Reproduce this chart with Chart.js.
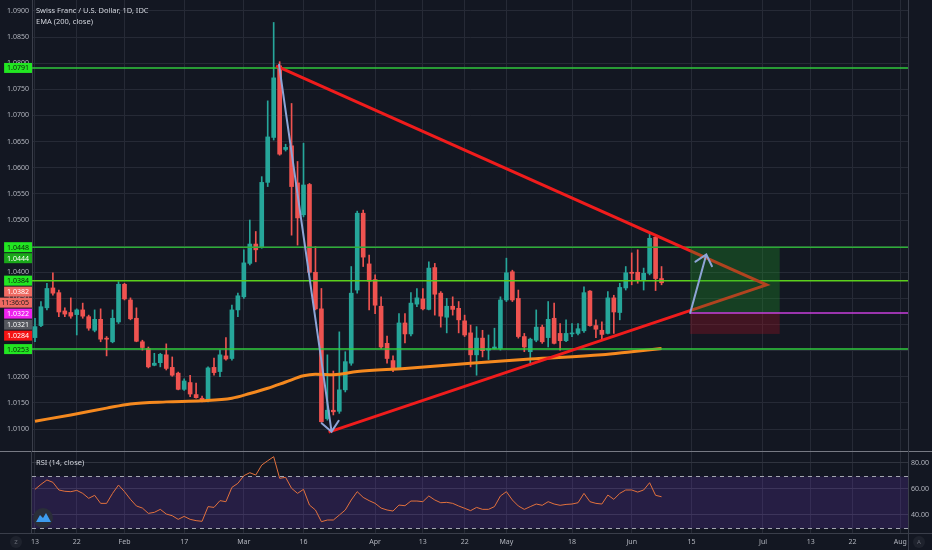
<!DOCTYPE html>
<html>
<head>
<meta charset="utf-8">
<title>CHFUSD 1D</title>
<script src="https://cdn.jsdelivr.net/npm/chart.js@4.4.1/dist/chart.umd.min.js"></script>
<style>
    html, body { margin: 0; padding: 0; background: #131722; }
    #wrap { position: relative; width: 932px; height: 550px; overflow: hidden; }
    #mainBox { position: absolute; left: 0; top: 0; width: 932px; height: 451px; }
    #rsiBox { position: absolute; left: 0; top: 451px; width: 932px; height: 99px; }
</style>
</head>
<body>
<div id="wrap">
    <div id="mainBox"><canvas id="mainChart"></canvas></div>
    <div id="rsiBox"><canvas id="rsiChart"></canvas></div>
</div>
<script>
// daily candles, 13 Jan - 8 Jun (trading days)
const opens = [1.0275,1.0298,1.0332,1.0370,1.0361,1.0326,1.0323,1.0319,1.0328,1.0315,
    1.0289,1.0310,1.0273,1.0267,1.0305,1.0377,1.0347,1.0312,1.0267,1.0254,
    1.0222,1.0227,1.0242,1.0218,1.0207,1.0176,1.0189,1.0166,1.0159,1.0154,
    1.0218,1.0210,1.0240,1.0235,1.0328,1.0353,1.0417,1.0454,1.0447,1.0572,
    1.0658,1.0795,1.0635,1.0642,1.0571,1.0510,1.0568,1.0400,1.0330,1.0120,
    1.0136,1.0134,1.0175,1.0226,1.0366,1.0513,1.0416,1.0386,1.0335,1.0264,
    1.0231,1.0216,1.0303,1.0282,1.0339,1.0349,1.0329,1.0409,1.0360,1.0314,
    1.0335,1.0331,1.0307,1.0284,1.0242,1.0274,1.0251,1.0254,1.0254,1.0347,
    1.0401,1.0350,1.0277,1.0248,1.0270,1.0295,1.0275,1.0312,1.0283,1.0269,
    1.0282,1.0283,1.0288,1.0364,1.0298,1.0289,1.0283,1.0351,1.0323,1.0370,
    1.0400,1.0400,1.0385,1.0398,1.0467,1.0388];
const highs = [1.0312,1.0344,1.0379,1.0399,1.0366,1.0332,1.0351,1.0330,1.0341,1.0318,
    1.0328,1.0330,1.0277,1.0328,1.0382,1.0379,1.0351,1.0332,1.0270,1.0257,
    1.0245,1.0245,1.0263,1.0238,1.0209,1.0196,1.0203,1.0188,1.0163,1.0219,
    1.0236,1.0251,1.0275,1.0337,1.0360,1.0443,1.0500,1.0478,1.0583,1.0728,
    1.0878,1.0803,1.0645,1.0723,1.0612,1.0647,1.0570,1.0449,1.0369,1.0242,
    1.0211,1.0286,1.0248,1.0411,1.0517,1.0519,1.0433,1.0395,1.0353,1.0278,
    1.0240,1.0321,1.0321,1.0361,1.0369,1.0369,1.0420,1.0417,1.0363,1.0350,
    1.0353,1.0344,1.0318,1.0299,1.0296,1.0289,1.0280,1.0293,1.0353,1.0427,
    1.0404,1.0366,1.0283,1.0274,1.0328,1.0299,1.0344,1.0341,1.0302,1.0309,
    1.0302,1.0302,1.0372,1.0365,1.0309,1.0305,1.0363,1.0356,1.0379,1.0411,
    1.0437,1.0443,1.0408,1.0475,1.0471,1.0411];
const lows = [1.0267,1.0296,1.0328,1.0356,1.0315,1.0315,1.0312,1.0280,1.0312,1.0289,
    1.0286,1.0267,1.0240,1.0265,1.0302,1.0347,1.0309,1.0267,1.0251,1.0217,
    1.0221,1.0219,1.0213,1.0201,1.0175,1.0174,1.0162,1.0159,1.0152,1.0152,
    1.0203,1.0200,1.0232,1.0232,1.0315,1.0350,1.0414,1.0420,1.0446,1.0564,
    1.0653,1.0624,1.0632,1.0471,1.0452,1.0506,1.0398,1.0328,1.0113,1.0117,
    1.0127,1.0130,1.0171,1.0222,1.0360,1.0411,1.0328,1.0321,1.0254,1.0226,
    1.0210,1.0214,1.0265,1.0278,1.0334,1.0328,1.0328,1.0318,1.0295,1.0284,
    1.0318,1.0284,1.0277,1.0219,1.0203,1.0238,1.0233,1.0253,1.0251,1.0344,
    1.0344,1.0274,1.0248,1.0222,1.0267,1.0264,1.0257,1.0263,1.0251,1.0267,
    1.0277,1.0280,1.0285,1.0297,1.0275,1.0272,1.0282,1.0283,1.0309,1.0366,
    1.0376,1.0379,1.0366,1.0395,1.0365,1.0376];
const closes = [1.0296,1.0334,1.0369,1.0360,1.0324,1.0320,1.0316,1.0328,1.0316,1.0293,
    1.0310,1.0272,1.0272,1.0312,1.0377,1.0349,1.0311,1.0268,1.0256,1.0219,
    1.0226,1.0243,1.0216,1.0203,1.0176,1.0192,1.0167,1.0160,1.0155,1.0217,
    1.0208,1.0242,1.0234,1.0328,1.0355,1.0418,1.0454,1.0443,1.0572,1.0659,
    1.0772,1.0626,1.0639,1.0564,1.0504,1.0567,1.0400,1.0330,1.0114,1.0136,
    1.0133,1.0175,1.0229,1.0360,1.0513,1.0429,1.0383,1.0337,1.0257,1.0235,
    1.0216,1.0303,1.0282,1.0341,1.0351,1.0330,1.0408,1.0358,1.0316,1.0335,
    1.0329,1.0309,1.0280,1.0242,1.0274,1.0250,1.0254,1.0257,1.0347,1.0399,
    1.0347,1.0277,1.0257,1.0272,1.0295,1.0267,1.0310,1.0264,1.0269,1.0283,
    1.0283,1.0292,1.0361,1.0298,1.0291,1.0281,1.0351,1.0324,1.0371,1.0399,
    1.0398,1.0385,1.0398,1.0465,1.0388,1.0380];

// EMA(200) at a few bars
const emaIdx = [0, 6, 12, 16, 22, 28, 33, 36, 39, 42, 45, 47, 50, 54, 62, 73, 83, 95, 100, 105];
const emaVals = [1.0115, 1.0127, 1.0140, 1.0148, 1.0152, 1.0154, 1.0159, 1.0168, 1.0178, 1.0190,
    1.0202, 1.0205, 1.0204, 1.0210, 1.0216, 1.0226, 1.0234, 1.0242, 1.0248, 1.0254];

// RSI(14)
const rsiVals = [59.5,63.3,66.7,64.9,59.0,58.0,57.7,58.7,56.4,52.6,
    54.9,48.7,48.7,56.4,62.8,57.7,51.8,46.7,45.1,41.0,
    41.8,44.1,40.5,39.2,36.4,38.7,36.4,35.4,34.9,46.2,
    45.6,50.8,50.0,61.0,64.1,70.0,72.3,70.5,78.2,81.5,
    84.6,68.0,68.7,60.3,56.4,59.5,47.4,43.6,34.6,35.9,
    35.9,39.7,43.6,51.3,57.7,53.3,50.8,48.7,45.1,43.6,
    42.8,47.4,46.9,50.5,50.5,50.0,54.4,51.3,49.2,49.5,
    48.7,46.7,44.9,43.1,45.6,44.1,44.1,46.2,54.4,57.7,
    51.3,46.7,44.1,46.2,48.2,47.2,50.0,48.2,47.2,47.9,
    48.2,49.2,56.4,50.0,48.7,48.2,55.1,51.8,56.4,59.0,
    59.0,57.4,59.0,64.6,54.9,53.8];

// axis ticks
const tickIdx = [0, 7, 15, 25, 35, 45, 57, 65, 72, 79, 90, 100, 110, 122, 130, 137, 145];
const tickText = ['13', '22', 'Feb', '17', 'Mar', '16', 'Apr', '13', '22', 'May', '18', 'Jun', '15', 'Jul', '13', '22', 'Aug'];
const priceTicks = [1.0100, 1.0150, 1.0200, 1.0250, 1.0300, 1.0350, 1.0400, 1.0450, 1.0500,
    1.0550, 1.0600, 1.0650, 1.0700, 1.0750, 1.0800, 1.0850, 1.0900];
const rsiTicks = [40, 60, 80];

// drawings (bar index, price)
const levelPrices = [1.0791, 1.0448, 1.0384, 1.0253];
const triTop = [40.4, 1.0795];
const triTip = [122.6, 1.0376];
const triBottom = [49.2, 1.0094];
const arrowDown = [40.9, 1.0797, 49.7, 1.0095];
const arrowUp = [109.8, 1.0322, 112.5, 1.0434];
const posStart = 109.8, posEnd = 124.8;
const posEntry = 1.0322, posTarget = 1.0448, posStop = 1.0282;

// price tags on the scale
const tagPrices = [1.0791, 1.0448, 1.0444, 1.0384, 1.0382, 1.0382, 1.0322, 1.0321, 1.0284, 1.0253];
const tagTexts = ['1.0791', '1.0448', '1.0444', '1.0384', '1.0382', '11:36:05', '1.0322', '1.0321', '1.0284', '1.0253'];

const UP = '#26a69a', DOWN = '#ef5350';
const BG = '#131722', GRID = '#262a36', TXT = '#b2b5be';
const FONT = "'Noto Sans', 'DejaVu Sans', sans-serif";
const levelColors = ['#30c83c', '#2eae38', '#5cd01c', '#30cc3e'];
const tagFills = ['#22e622', '#22e622', '#1aa81a', '#22e622', '#ef6a62', '#ef6a62', '#ee22ee', '#55575e', '#f51414', '#22e622'];
const tagInks = ['#0b220b', '#0b220b', '#ffffff', '#0b220b', '#ffffff', '#1b1b1b', '#ffffff', '#ffffff', '#ffffff', '#0b220b'];

Chart.defaults.font.family = FONT;
Chart.defaults.color = TXT;

const candleColors = opens.map((o, i) => (closes[i] >= o ? UP : DOWN));

function arrow(c, x1, y1, x2, y2) {
    const ang = Math.atan2(y1 - y2, x1 - x2);
    const len = 13, spread = 0.72;
    c.beginPath();
    c.moveTo(x1, y1);
    c.lineTo(x2, y2);
    c.moveTo(x2 + len * Math.cos(ang - spread), y2 + len * Math.sin(ang - spread));
    c.lineTo(x2, y2);
    c.lineTo(x2 + len * Math.cos(ang + spread), y2 + len * Math.sin(ang + spread));
    c.stroke();
}

const mainDrawings = {
    id: 'mainDrawings',
    beforeDraw(chart) {
        const c = chart.ctx;
        c.save();
        c.fillStyle = BG;
        c.fillRect(0, 0, chart.width, chart.height);
        c.restore();
    },
    afterDatasetsDraw(chart) {
        const c = chart.ctx, a = chart.chartArea;
        const x = chart.scales.x, y = chart.scales.y;
        const px = v => x.getPixelForValue(v), py = v => y.getPixelForValue(v);
        c.save();
        c.beginPath();
        c.rect(a.left, a.top, a.right - a.left, a.bottom - a.top);
        c.clip();

        // horizontal levels
        c.lineWidth = 1.5;
        levelPrices.forEach((p, k) => {
            const yy = py(p);
            c.strokeStyle = levelColors[k];
            c.beginPath();
            c.moveTo(a.left, yy);
            c.lineTo(a.right, yy);
            c.stroke();
        });

        // triangle
        c.strokeStyle = '#f01c1c';
        c.lineWidth = 3;
        c.beginPath();
        c.moveTo(px(triTop[0]), py(triTop[1]));
        c.lineTo(px(triTip[0]), py(triTip[1]));
        c.lineTo(px(triBottom[0]), py(triBottom[1]));
        c.stroke();

        // long position
        const x0 = px(posStart), x1 = px(posEnd);
        c.fillStyle = 'rgba(30,160,40,0.30)';
        c.fillRect(x0, py(posTarget), x1 - x0, py(posEntry) - py(posTarget));
        c.fillStyle = 'rgba(165,20,35,0.32)';
        c.fillRect(x0, py(posEntry), x1 - x0, py(posStop) - py(posEntry));
        c.strokeStyle = '#c83fdc';
        c.lineWidth = 1.5;
        const ye = py(posEntry);
        c.beginPath();
        c.moveTo(x0, ye);
        c.lineTo(a.right, ye);
        c.stroke();

        // arrows
        c.strokeStyle = '#8ea4d6';
        c.lineWidth = 2;
        c.lineCap = 'round';
        arrow(c, px(arrowDown[0]), py(arrowDown[1]), px(arrowDown[2]), py(arrowDown[3]));
        arrow(c, px(arrowUp[0]), py(arrowUp[1]), px(arrowUp[2]), py(arrowUp[3]));
        c.restore();
    },
    afterDraw(chart) {
        const c = chart.ctx, a = chart.chartArea, y = chart.scales.y;
        c.save();
        // right border of the pane
        c.strokeStyle = '#3a3e4a';
        c.lineWidth = 1;
        c.beginPath();
        c.moveTo(a.right + 0.5, 0);
        c.lineTo(a.right + 0.5, a.bottom);
        c.stroke();

        // legend
        c.fillStyle = '#d1d4dc';
        c.font = '7.5px ' + FONT;
        c.textAlign = 'left';
        c.textBaseline = 'middle';
        c.fillText('Swiss Franc / U.S. Dollar, 1D, IDC', 36, 11);
        c.fillText('EMA (200, close)', 36, 22);

        // price tags, pushed down when they collide
        c.font = '7px ' + FONT;
        c.textAlign = 'center';
        let prev = -100;
        tagPrices.forEach((p, k) => {
            let yy = y.getPixelForValue(p);
            if (yy < prev + 11) yy = prev + 11;
            prev = yy;
            const w = Math.max(27, c.measureText(tagTexts[k]).width + 6);
            c.fillStyle = tagFills[k];
            c.fillRect(a.left - w, yy - 5, w, 10);
            c.fillStyle = tagInks[k];
            c.fillText(tagTexts[k], a.left - w / 2, yy + 0.5);
        });
        c.restore();
    }
};

const rsiDrawings = {
    id: 'rsiDrawings',
    beforeDraw(chart) {
        const c = chart.ctx;
        c.save();
        c.fillStyle = BG;
        c.fillRect(0, 0, chart.width, chart.height);
        c.restore();
    },
    beforeDatasetsDraw(chart) {
        const c = chart.ctx, a = chart.chartArea, y = chart.scales.y;
        const y70 = Math.round(y.getPixelForValue(70)) + 0.5;
        const y30 = Math.round(y.getPixelForValue(30)) + 0.5;
        c.save();
        c.fillStyle = 'rgba(110,60,190,0.22)';
        c.fillRect(a.left, y70, a.right - a.left, y30 - y70);
        c.strokeStyle = '#a3a6af';
        c.lineWidth = 1;
        c.setLineDash([4, 4]);
        [y70, y30].forEach(yy => {
            c.beginPath();
            c.moveTo(a.left, yy);
            c.lineTo(a.right, yy);
            c.stroke();
        });
        c.restore();
    },
    afterDraw(chart) {
        const c = chart.ctx, a = chart.chartArea;
        c.save();
        // pane separator and borders
        c.strokeStyle = '#777a84';
        c.lineWidth = 1;
        c.beginPath();
        c.moveTo(0, 0.5);
        c.lineTo(chart.width, 0.5);
        c.stroke();
        c.strokeStyle = '#3a3e4a';
        c.beginPath();
        c.moveTo(a.left - 0.5, 0);
        c.lineTo(a.left - 0.5, a.bottom);
        c.moveTo(a.right + 0.5, 0);
        c.lineTo(a.right + 0.5, chart.height);
        c.moveTo(0, a.bottom + 0.5);
        c.lineTo(chart.width, a.bottom + 0.5);
        c.stroke();

        c.fillStyle = '#d1d4dc';
        c.font = '7.5px ' + FONT;
        c.textAlign = 'left';
        c.textBaseline = 'middle';
        c.fillText('RSI (14, close)', 36, 12);

        // logo badge
        c.fillStyle = '#2a2e39';
        c.beginPath();
        c.arc(43, 67, 10, 0, Math.PI * 2);
        c.fill();
        c.fillStyle = '#3d9cf0';
        c.beginPath();
        c.moveTo(36, 71);
        c.lineTo(40, 64);
        c.lineTo(43, 67);
        c.lineTo(46, 62);
        c.lineTo(51, 71);
        c.closePath();
        c.fill();

        // small corner buttons
        c.font = '6px ' + FONT;
        c.textAlign = 'center';
        [[16, 'Z'], [919, 'A']].forEach(([bx, t]) => {
            c.fillStyle = '#1e222d';
            c.beginPath();
            c.arc(bx, 91, 6, 0, Math.PI * 2);
            c.fill();
            c.fillStyle = '#6a6d78';
            c.fillText(t, bx, 91.5);
        });
        c.restore();
    }
};

// Main candlestick pane
const ctxMain = document.getElementById('mainChart').getContext('2d');
const mainChart = new Chart(ctxMain, {
    type: 'bar',
    data: {
        datasets: [{
            label: 'wicks',
            data: highs.map((h, i) => ({ x: i, y: [lows[i], h] })),
            backgroundColor: candleColors,
            barThickness: 1,
            grouped: false,
            order: 3
        }, {
            label: 'bodies',
            data: opens.map((o, i) => ({ x: i, y: [o, closes[i]] })),
            backgroundColor: candleColors,
            barThickness: 4,
            minBarLength: 1,
            grouped: false,
            order: 2
        }, {
            type: 'line',
            label: 'EMA (200, close)',
            data: emaIdx.map((v, k) => ({ x: v, y: emaVals[k] })),
            borderColor: '#f5891f',
            borderWidth: 3,
            pointRadius: 0,
            cubicInterpolationMode: 'monotone',
            order: 1
        }]
    },
    options: {
        responsive: true,
        maintainAspectRatio: false,
        animation: false,
        layout: { padding: { left: 0, right: 24, top: 0, bottom: 0 } },
        plugins: { legend: { display: false }, tooltip: { enabled: false } },
        scales: {
            x: {
                type: 'linear',
                offset: false,
                min: -0.5,
                max: 146.3,
                afterBuildTicks: axis => { axis.ticks = tickIdx.map(v => ({ value: v })); },
                afterFit: axis => { axis.height = 0; axis.paddingLeft = 0; axis.paddingRight = 0; },
                ticks: { display: false },
                grid: { color: GRID, drawTicks: false, offset: false },
                border: { display: false }
            },
            y: {
                position: 'left',
                min: 1.0058,
                max: 1.0921,
                afterBuildTicks: axis => { axis.ticks = priceTicks.map(v => ({ value: v })); },
                afterFit: axis => { axis.width = 32; axis.paddingTop = 0; axis.paddingBottom = 0; },
                ticks: {
                    color: TXT,
                    font: { size: 7 },
                    crossAlign: 'center',
                    callback: v => v.toFixed(4)
                },
                grid: { color: GRID, drawTicks: false },
                border: { color: '#3a3e4a' }
            }
        }
    },
    plugins: [mainDrawings]
});

// RSI pane
const ctxRsi = document.getElementById('rsiChart').getContext('2d');
const rsiChart = new Chart(ctxRsi, {
    type: 'line',
    data: {
        datasets: [{
            label: 'RSI (14, close)',
            data: rsiVals.map((v, i) => ({ x: i, y: v })),
            borderColor: '#e2713d',
            borderWidth: 1,
            pointRadius: 0
        }]
    },
    options: {
        responsive: true,
        maintainAspectRatio: false,
        animation: false,
        layout: { padding: { left: 32, right: 0, top: 0, bottom: 0 } },
        plugins: { legend: { display: false }, tooltip: { enabled: false } },
        scales: {
            x: {
                type: 'linear',
                offset: false,
                min: -0.5,
                max: 146.3,
                afterBuildTicks: axis => { axis.ticks = tickIdx.map(v => ({ value: v })); },
                afterFit: axis => { axis.height = 17; axis.paddingLeft = 0; axis.paddingRight = 0; },
                ticks: {
                    color: TXT,
                    font: { size: 7 },
                    maxRotation: 0,
                    autoSkip: false,
                    padding: 5,
                    callback: v => tickText[tickIdx.indexOf(v)]
                },
                grid: { color: GRID, drawTicks: false },
                border: { display: false }
            },
            y: {
                position: 'right',
                min: 25.9,
                max: 89,
                afterBuildTicks: axis => { axis.ticks = rsiTicks.map(v => ({ value: v })); },
                afterFit: axis => { axis.width = 24; axis.paddingTop = 0; axis.paddingBottom = 0; },
                ticks: {
                    color: TXT,
                    font: { size: 7 },
                    crossAlign: 'center',
                    callback: v => v.toFixed(2)
                },
                grid: { color: '#30343f', drawTicks: false },
                border: { display: false }
            }
        }
    },
    plugins: [rsiDrawings]
});
</script>
</body>
</html>
